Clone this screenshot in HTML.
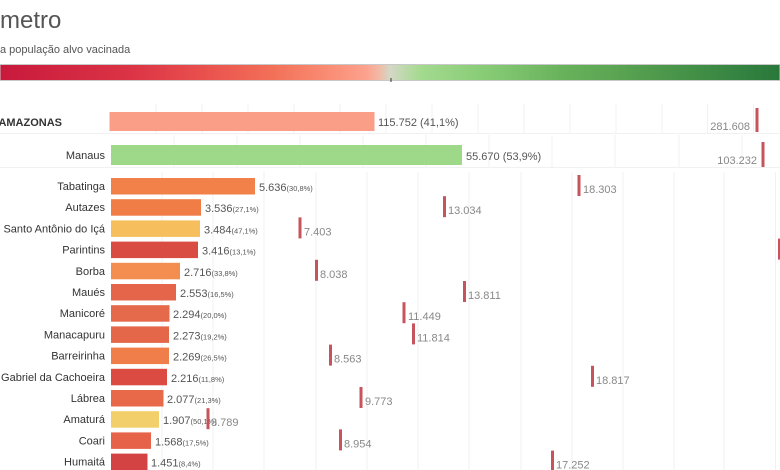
<!DOCTYPE html>
<html><head><meta charset="utf-8"><style>
html,body{margin:0;padding:0;background:#fff;}
svg{display:block;}
text{font-family:"Liberation Sans",Arial,sans-serif;}
</style></head><body>
<svg width="780" height="470" viewBox="0 0 780 470" xmlns="http://www.w3.org/2000/svg">
<defs>
<linearGradient id="g" x1="0" y1="0" x2="1" y2="0">
<stop offset="0" stop-color="#c8193c"/>
<stop offset="0.17" stop-color="#dc3446"/>
<stop offset="0.26" stop-color="#e9504d"/>
<stop offset="0.35" stop-color="#f37058"/>
<stop offset="0.43" stop-color="#fa9078"/>
<stop offset="0.47" stop-color="#fca28e"/>
<stop offset="0.485" stop-color="#f2b8a4"/>
<stop offset="0.50" stop-color="#d4d8c6"/>
<stop offset="0.54" stop-color="#a3da8e"/>
<stop offset="0.62" stop-color="#88cc76"/>
<stop offset="0.72" stop-color="#69b25c"/>
<stop offset="0.84" stop-color="#4f9a4c"/>
<stop offset="1" stop-color="#28783b"/>
</linearGradient>
</defs>
<rect width="780" height="470" fill="#fff"/>
<text x="0" y="28" font-size="24" fill="#555">metro</text>
<text x="0" y="53" font-size="11" fill="#555">a população alvo vacinada</text>
<rect x="0" y="64.5" width="780" height="16" fill="url(#g)" stroke="#c8c8c8" stroke-width="1"/>
<rect x="390.5" y="78" width="1" height="4" fill="#333"/>

<g stroke="#f1f1f1" stroke-width="1">
<line x1="156" y1="104" x2="156" y2="133"/><line x1="202" y1="104" x2="202" y2="133"/><line x1="248" y1="104" x2="248" y2="133"/><line x1="294" y1="104" x2="294" y2="133"/><line x1="340" y1="104" x2="340" y2="133"/><line x1="386" y1="104" x2="386" y2="133"/><line x1="432" y1="104" x2="432" y2="133"/><line x1="478" y1="104" x2="478" y2="133"/><line x1="524" y1="104" x2="524" y2="133"/><line x1="570" y1="104" x2="570" y2="133"/><line x1="616" y1="104" x2="616" y2="133"/><line x1="662" y1="104" x2="662" y2="133"/><line x1="707.5" y1="104" x2="707.5" y2="133"/><line x1="753.5" y1="104" x2="753.5" y2="133"/>
<line x1="174" y1="135" x2="174" y2="167"/><line x1="237" y1="135" x2="237" y2="167"/><line x1="300" y1="135" x2="300" y2="167"/><line x1="363" y1="135" x2="363" y2="167"/><line x1="426" y1="135" x2="426" y2="167"/><line x1="489" y1="135" x2="489" y2="167"/><line x1="552" y1="135" x2="552" y2="167"/><line x1="615" y1="135" x2="615" y2="167"/><line x1="679" y1="135" x2="679" y2="167"/><line x1="742" y1="135" x2="742" y2="167"/>
<line x1="162" y1="172" x2="162" y2="470"/><line x1="213" y1="172" x2="213" y2="470"/><line x1="264" y1="172" x2="264" y2="470"/><line x1="316" y1="172" x2="316" y2="470"/><line x1="367" y1="172" x2="367" y2="470"/><line x1="418" y1="172" x2="418" y2="470"/><line x1="469" y1="172" x2="469" y2="470"/><line x1="521" y1="172" x2="521" y2="470"/><line x1="572" y1="172" x2="572" y2="470"/><line x1="623" y1="172" x2="623" y2="470"/><line x1="674" y1="172" x2="674" y2="470"/><line x1="724" y1="172" x2="724" y2="470"/><line x1="775.5" y1="172" x2="775.5" y2="470"/>
<line x1="0" y1="133.5" x2="780" y2="133.5"/>
<line x1="0" y1="167.5" x2="780" y2="167.5"/>
</g>

<text x="62" y="126" font-size="11" font-weight="bold" fill="#333" text-anchor="end">AMAZONAS</text>
<rect x="109.5" y="112" width="265" height="19" fill="#fb9e88"/>
<text x="378" y="126" font-size="11" fill="#555">115.752 (41,1%)</text>
<rect x="755.5" y="108" width="3" height="24" fill="#c7545c"/>
<text x="750" y="130" font-size="11" fill="#888" text-anchor="end">281.608</text>

<text x="105" y="159" font-size="11" fill="#333" text-anchor="end">Manaus</text>
<rect x="111" y="145" width="351" height="20" fill="#9ed98a"/>
<text x="466" y="160" font-size="11" fill="#555">55.670 (53,9%)</text>
<rect x="761.5" y="142" width="3" height="25" fill="#c7545c"/>
<text x="757" y="164" font-size="11" fill="#888" text-anchor="end">103.232</text>

<g font-size="11">
<text x="105" y="190" fill="#333" text-anchor="end">Tabatinga</text>
<rect x="111" y="178" width="144" height="16.5" fill="#f28149"/>
<text x="259" y="191" fill="#555">5.636<tspan font-size="7.5">(30,8%)</tspan></text>
<rect x="577.5" y="175" width="3" height="21" fill="#c7545c"/>
<text x="583" y="193" fill="#888">18.303</text>

<text x="105" y="211.2" fill="#333" text-anchor="end">Autazes</text>
<rect x="111" y="199.2" width="90" height="16.5" fill="#f07c46"/>
<text x="205" y="212.2" fill="#555">3.536<tspan font-size="7.5">(27,1%)</tspan></text>
<rect x="443" y="196.2" width="3" height="21" fill="#c7545c"/>
<text x="448" y="214.2" fill="#888">13.034</text>

<text x="105" y="232.4" fill="#333" text-anchor="end">Santo Antônio do Içá</text>
<rect x="111" y="220.4" width="89" height="16.5" fill="#f6be5c"/>
<text x="204" y="233.4" fill="#555">3.484<tspan font-size="7.5">(47,1%)</tspan></text>
<rect x="298.5" y="217.4" width="3" height="21" fill="#c7545c"/>
<text x="304" y="235.4" fill="#888">7.403</text>

<text x="105" y="253.6" fill="#333" text-anchor="end">Parintins</text>
<rect x="111" y="241.6" width="87" height="16.5" fill="#d94c42"/>
<text x="202" y="254.6" fill="#555">3.416<tspan font-size="7.5">(13,1%)</tspan></text>
<rect x="778" y="238.6" width="3" height="21" fill="#c7545c"/>

<text x="105" y="274.8" fill="#333" text-anchor="end">Borba</text>
<rect x="111" y="262.8" width="69" height="16.5" fill="#f48e50"/>
<text x="184" y="275.8" fill="#555">2.716<tspan font-size="7.5">(33,8%)</tspan></text>
<rect x="315" y="259.8" width="3" height="21" fill="#c7545c"/>
<text x="320" y="277.8" fill="#888">8.038</text>

<text x="105" y="296" fill="#333" text-anchor="end">Maués</text>
<rect x="111" y="284" width="65" height="16.5" fill="#e4654a"/>
<text x="180" y="297" fill="#555">2.553<tspan font-size="7.5">(16,5%)</tspan></text>
<rect x="463" y="281" width="3" height="21" fill="#c7545c"/>
<text x="468" y="299" fill="#888">13.811</text>

<text x="105" y="317.2" fill="#333" text-anchor="end">Manicoré</text>
<rect x="111" y="305.2" width="58.5" height="16.5" fill="#e5694b"/>
<text x="173" y="318.2" fill="#555">2.294<tspan font-size="7.5">(20,0%)</tspan></text>
<rect x="402.5" y="302.2" width="3" height="21" fill="#c7545c"/>
<text x="408" y="320.2" fill="#888">11.449</text>

<text x="105" y="338.4" fill="#333" text-anchor="end">Manacapuru</text>
<rect x="111" y="326.4" width="58" height="16.5" fill="#e4674a"/>
<text x="173" y="339.4" fill="#555">2.273<tspan font-size="7.5">(19,2%)</tspan></text>
<rect x="412" y="323.4" width="3" height="21" fill="#c7545c"/>
<text x="417" y="341.4" fill="#888">11.814</text>

<text x="105" y="359.6" fill="#333" text-anchor="end">Barreirinha</text>
<rect x="111" y="347.6" width="58" height="16.5" fill="#f07e4b"/>
<text x="173" y="360.6" fill="#555">2.269<tspan font-size="7.5">(26,5%)</tspan></text>
<rect x="329" y="344.6" width="3" height="21" fill="#c7545c"/>
<text x="334" y="362.6" fill="#888">8.563</text>

<text x="105" y="380.8" fill="#333" text-anchor="end">São Gabriel da Cachoeira</text>
<rect x="111" y="368.8" width="56" height="16.5" fill="#dc4b42"/>
<text x="171" y="381.8" fill="#555">2.216<tspan font-size="7.5">(11,8%)</tspan></text>
<rect x="591" y="365.8" width="3" height="21" fill="#c7545c"/>
<text x="596" y="383.8" fill="#888">18.817</text>

<text x="105" y="402" fill="#333" text-anchor="end">Lábrea</text>
<rect x="111" y="390" width="52.5" height="16.5" fill="#e8694a"/>
<text x="167" y="403" fill="#555">2.077<tspan font-size="7.5">(21,3%)</tspan></text>
<rect x="359.5" y="387" width="3" height="21" fill="#c7545c"/>
<text x="365" y="405" fill="#888">9.773</text>

<text x="105" y="423.2" fill="#333" text-anchor="end">Amaturá</text>
<rect x="111" y="411.2" width="48" height="16.5" fill="#f2cf6a"/>
<text x="163" y="424.2" fill="#555">1.907<tspan font-size="7.5">(50,1%)</tspan></text>
<rect x="206.5" y="408.2" width="3" height="21" fill="#c7545c"/>
<text x="211" y="426.2" fill="#888">3.789</text>

<text x="105" y="444.4" fill="#333" text-anchor="end">Coari</text>
<rect x="111" y="432.4" width="40" height="16.5" fill="#e6634a"/>
<text x="155" y="445.4" fill="#555">1.568<tspan font-size="7.5">(17,5%)</tspan></text>
<rect x="339" y="429.4" width="3" height="21" fill="#c7545c"/>
<text x="344" y="447.4" fill="#888">8.954</text>

<text x="105" y="465.6" fill="#333" text-anchor="end">Humaitá</text>
<rect x="111" y="453.6" width="36.5" height="16.5" fill="#d44343"/>
<text x="151" y="466.6" fill="#555">1.451<tspan font-size="7.5">(8,4%)</tspan></text>
<rect x="551" y="450.6" width="3" height="21" fill="#c7545c"/>
<text x="556" y="468.6" fill="#888">17.252</text>
</g>
</svg>
</body></html>
